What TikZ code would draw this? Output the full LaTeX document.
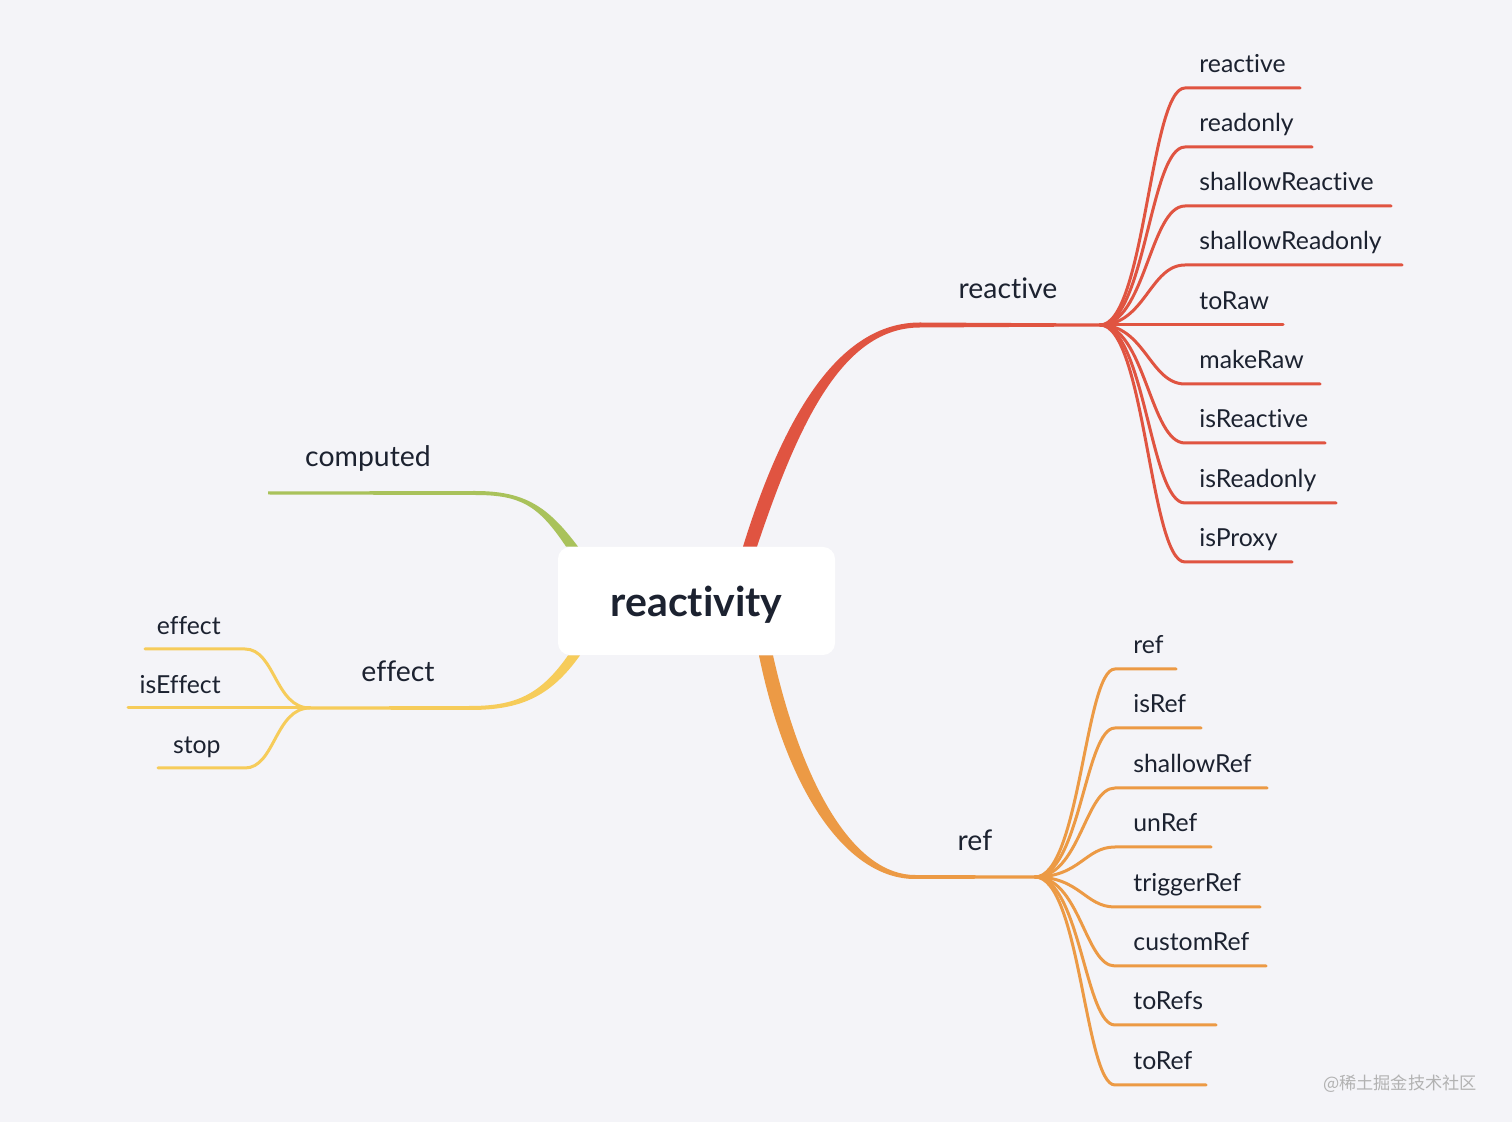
\documentclass[tikz,border=0pt]{standalone}
\usepackage{fontspec}
\setmainfont{Lato}[Ligatures=NoCommon]
\newfontfamily\cjk{Noto Sans CJK SC}
\usetikzlibrary{positioning,calc}
\definecolor{paper}{HTML}{F4F4F8}
\definecolor{ink}{HTML}{1C2230}
\definecolor{reactivecol}{HTML}{E05441}
\definecolor{refcol}{HTML}{EC9A45}
\definecolor{effectcol}{HTML}{F6CC5A}
\definecolor{computedcol}{HTML}{A9C25B}
\begin{document}
\begin{tikzpicture}[x=0.5pt,y=-0.5pt,
    core/.style={fill=white,rounded corners=6pt,minimum width=138.5pt,minimum height=54pt,
      text depth=0pt,text=ink,font=\fontsize{20.5}{24}\selectfont\bfseries},
    branch/.style={text=ink,font=\fontsize{14.2}{17}\selectfont,anchor=base},
    leaf/.style={text=ink,font=\fontsize{12.4}{15}\selectfont,inner sep=0pt},
    leafline/.style={line width=1.5pt,line cap=round}]
        \useasboundingbox[fill=paper] (0,0) rectangle (1512,1122);
        \node[core] (core) at (696.5,601) {reactivity};
        \coordinate (reactive-fork) at (1100,325);
        \coordinate (ref-fork) at (1035,877);
        \coordinate (computed-end) at (268,493);
        \coordinate (effect-fork) at (310,708);
        % main branches, thick at the root
        \fill[reactivecol] ($(core.north)+(46.5,0)$) .. controls +(40,-129) and +(-82,0) .. ($(reactive-fork)+(-180,-2.5)$)
            -- ($(reactive-fork)+(0,-1.5)$) -- ($(reactive-fork)+(0,1.5)$) -- ($(reactive-fork)+(-180,2.5)$)
            .. controls +(-77,0) and +(42,-125) .. ($(core.north)+(60.5,0)$) -- cycle;
        \fill[refcol] ($(core.south)+(62.5,0)$) .. controls +(28,137) and +(-68,0) .. ($(ref-fork)+(-120,2)$)
            -- ($(ref-fork)+(0,1.5)$) -- ($(ref-fork)+(0,-1.5)$) -- ($(ref-fork)+(-120,-2)$)
            .. controls +(-60,0) and +(30,133) .. ($(core.south)+(76.5,0)$) -- cycle;
        \fill[computedcol] ($(core.north)+(-118.5,0)$) .. controls +(-30,-40) and +(50,0) .. ($(computed-end)+(207,-2)$)
            -- ($(computed-end)+(0,-1.5)$) -- ($(computed-end)+(0,1.5)$) -- ($(computed-end)+(207,2)$)
            .. controls +(45,0) and +(-28,-42) .. ($(core.north)+(-130.5,0)$) -- cycle;
        \fill[effectcol] ($(core.south)+(-128.5,0)$) .. controls +(-28,40) and +(45,0) .. ($(effect-fork)+(160,-2)$)
            -- ($(effect-fork)+(0,-1.5)$) -- ($(effect-fork)+(0,1.5)$) -- ($(effect-fork)+(160,2)$)
            .. controls +(50,0) and +(-30,42) .. ($(core.south)+(-116.5,0)$) -- cycle;
        \node[branch] (reactive) at (1008,299) {reactive};
        \node[branch] (ref) at (975,851) {ref};
        \node[branch] (computed) at (368,467) {computed};
        \node[branch] (effect) at (398,682) {effect};
        % leaves
        \foreach \txt/\y/\e [count=\i] in {reactive/88/1300,readonly/147/1312,shallowReactive/206/1391,
            shallowReadonly/265/1402,toRaw/325/1283,makeRaw/384/1320,isReactive/443/1325,
            isReadonly/503/1336,isProxy/562/1292}{
          \coordinate (rl\i) at (\e,\y);
          \node[leaf,anchor=base west] (rt\i) at (1199,\y-15) {\txt};
          \draw[leafline,reactivecol] (reactive-fork) .. controls +(45,0) and +(-35,0) .. (1185,\y) -- (rl\i);
        }
        \foreach \txt/\y/\e [count=\i] in {ref/669/1176,isRef/728/1201,shallowRef/788/1267,unRef/847/1211,
            triggerRef/907/1260,customRef/966/1266,toRefs/1025/1216,toRef/1085/1206}{
          \coordinate (fl\i) at (\e,\y);
          \node[leaf,anchor=base west] (ft\i) at (1133,\y-15) {\txt};
          \draw[leafline,refcol] (ref-fork) .. controls +(45,0) and +(-30,0) .. (1115,\y) -- (fl\i);
        }
        \foreach \txt/\y/\e [count=\i] in {effect/649/145,isEffect/708/128,stop/768/158}{
          \coordinate (el\i) at (\e,\y);
          \node[leaf,anchor=base east] (et\i) at (221,\y-14) {\txt};
          \draw[leafline,effectcol] (effect-fork) .. controls +(-35,0) and +(30,0) .. (245,\y) -- (el\i);
        }
        \node[text=gray!60,font=\cjk\fontsize{8.6}{10}\selectfont,anchor=east] (mark) at (1484,1084) {@稀土掘金技术社区};
    \end{tikzpicture}
\end{document}
